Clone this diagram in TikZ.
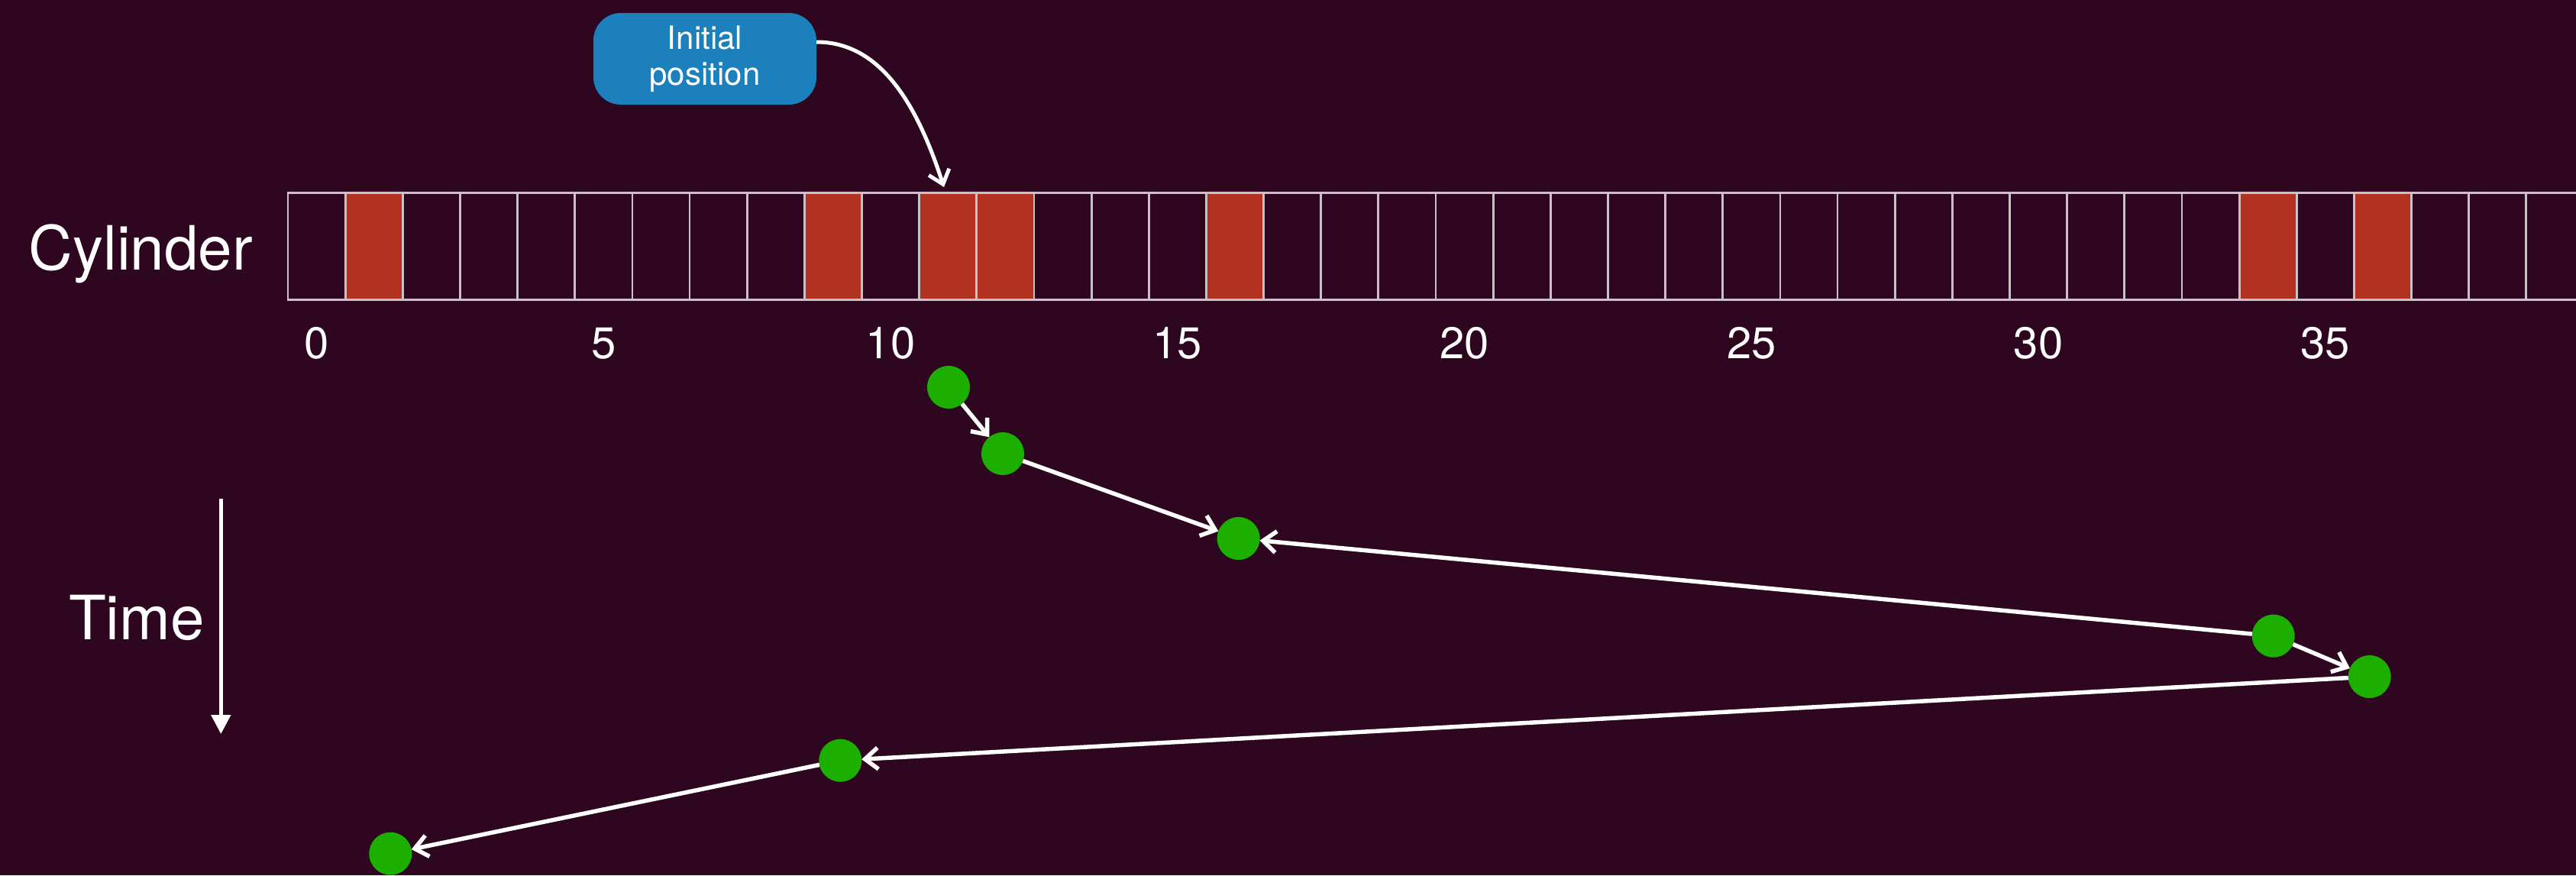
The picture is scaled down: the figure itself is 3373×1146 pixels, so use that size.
\documentclass[tikz,border=0pt]{standalone}
\usepackage{fontspec}
\setmainfont{TeX Gyre Heros}
\usetikzlibrary{arrows.meta}

\definecolor{bg}{RGB}{46,6,32}
\definecolor{cellred}{RGB}{178,50,33}
\definecolor{gridline}{RGB}{200,194,198}
\definecolor{dotgreen}{RGB}{29,175,0}
\definecolor{callblue}{RGB}{27,128,187}

\begin{document}
\begin{tikzpicture}[x=1pt,y=-1pt,
  cell/.style={draw=gridline, line width=2.8pt, minimum width=75.15pt,
    minimum height=140pt, inner sep=0pt, outer sep=0pt},
  busy/.style={cell, fill=cellred},
  num/.style={text=white, inner sep=0pt, font=\fontsize{58}{64}\selectfont},
  biglabel/.style={text=white, inner sep=0pt, anchor=base east,
    font=\fontsize{80}{96}\selectfont},
  callout/.style={fill=callblue, rounded corners=36pt, minimum width=292pt,
    minimum height=120pt, text=white, align=center, inner sep=0pt,
    font=\fontsize{42}{47}\selectfont},
  request/.style={circle, fill=dotgreen, minimum size=56pt, inner sep=0pt,
    outer sep=0pt},
  flow/.style={draw=white, line width=5.5pt,
    -{Straight Barb[length=17pt,width=28pt]}},
  timeline/.style={draw=white, line width=5pt,
    -{Triangle[length=25pt,width=25pt]}}
]
% background and page size
\fill[bg] (0,0) rectangle (3373,1146);
\useasboundingbox (0,0) rectangle (3373,1146);

% cylinder strip: cells 0..39, occupied ones in red
\foreach \i in {0,...,39} {
  \pgfmathsetmacro\cx{377+(\i+0.5)*75.15}
  \node[cell] (c\i) at (\cx,322.3) {};
}
\foreach \i in {1,9,11,12,16,34,36} {
  \pgfmathsetmacro\cx{377+(\i+0.5)*75.15}
  \node[busy] (r\i) at (\cx,322.3) {};
}

% cylinder numbers
\foreach \k in {0,5,...,35} {
  \pgfmathsetmacro\cx{377+(\k+0.5)*75.15}
  \node[num] (n\k) at (\cx,449.5) {\k};
}

% axis labels
\node[biglabel] (cyl) at (331,353) {Cylinder};
\node[biglabel] (time) at (268,837) {Time};

% time axis
\coordinate (tstart) at (289.3,653);
\coordinate (tend) at (289.3,961);
\draw[timeline] (tstart) -- (tend);

% initial head position
\node[callout] (init) at (923,77) {Initial\\position};
\coordinate (headpos) at (1236,245);
\draw[flow, line width=5pt]
  ([shift={(0,-22)}]init.east) .. controls +(90,0) and +(-31,-95) .. (headpos);

% service order of the requests
\node[request] (d1) at (1242,507) {};
\node[request] (d2) at (1313,594) {};
\node[request] (d3) at (1621.7,705) {};
\node[request] (d4) at (2976.7,832.7) {};
\node[request] (d5) at (3102.7,886) {};
\node[request] (d6) at (1100.3,995.7) {};
\node[request] (d7) at (511.3,1117.7) {};

\draw[flow] (d1) -- (d2);
\draw[flow] (d2) -- (d3);
\draw[flow] (d4) -- (d3);
\draw[flow] (d4) -- (d5);
\draw[flow] (d5) -- (d6);
\draw[flow] (d6) -- (d7);
\end{tikzpicture}
\end{document}
